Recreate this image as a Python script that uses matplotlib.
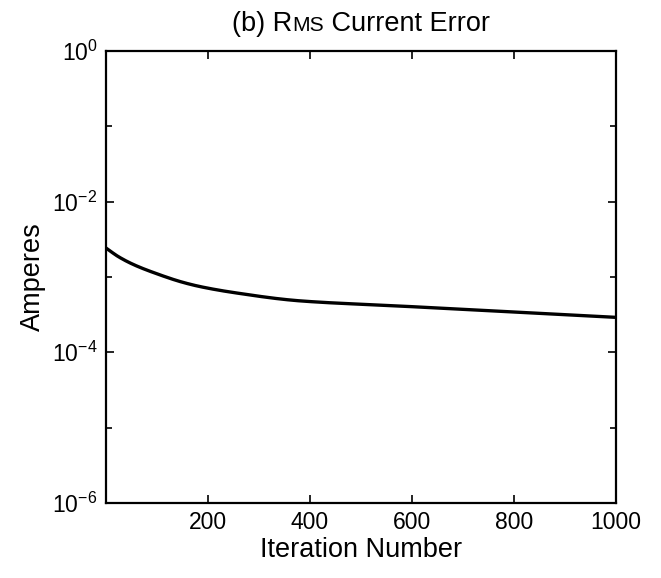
import numpy as np
import matplotlib
matplotlib.use("Agg")
import matplotlib.pyplot as plt
from matplotlib.ticker import FixedLocator, NullFormatter
from matplotlib.offsetbox import TextArea, HPacker, AnnotationBbox

plt.rcParams['font.family'] = ['Liberation Sans', 'DejaVu Sans']

# values
iterations = [1, 25, 55, 100, 150, 186, 250, 381, 576, 771, 1000]
rms_error = [2.4e-3, 1.85e-3, 1.45e-3, 1.1e-3, 8.5e-4, 7.4e-4, 6.2e-4,
             4.8e-4, 4.1e-4, 3.5e-4, 2.9e-4]
x_ticks = [200, 400, 600, 800, 1000]
y_ticks = [1e-6, 1e-4, 1e-2, 1e0]


def pchip(x, y, xs):
    # monotone cubic through the read points so the line has no kinks
    x = np.asarray(x, float)
    y = np.asarray(y, float)
    h = np.diff(x)
    d = np.diff(y) / h
    m = np.zeros_like(y)
    for k in range(1, len(x) - 1):
        if d[k - 1] * d[k] > 0:
            w1 = 2 * h[k] + h[k - 1]
            w2 = h[k] + 2 * h[k - 1]
            m[k] = (w1 + w2) / (w1 / d[k - 1] + w2 / d[k])
    m[0] = d[0]
    m[-1] = d[-1]
    idx = np.clip(np.searchsorted(x, xs) - 1, 0, len(x) - 2)
    t = (xs - x[idx]) / h[idx]
    h00 = 2 * t**3 - 3 * t**2 + 1
    h10 = t**3 - 2 * t**2 + t
    h01 = -2 * t**3 + 3 * t**2
    h11 = t**3 - t**2
    return (h00 * y[idx] + h10 * h[idx] * m[idx]
            + h01 * y[idx + 1] + h11 * h[idx] * m[idx + 1])


xs = np.linspace(1, 1000, 1000)
ys = 10 ** pchip(iterations, np.log10(rms_error), xs)

fig = plt.figure(figsize=(6.61, 5.78), dpi=100)
ax = fig.add_axes([0.160, 0.130, 0.772, 0.782])
ax.plot(xs, ys, color='black', linewidth=2.4)

ax.set_yscale('log')
ax.set_xlim(0, 1000)
ax.set_ylim(1e-6, 1e0)
ax.xaxis.set_major_locator(FixedLocator(x_ticks))
ax.yaxis.set_major_locator(FixedLocator(y_ticks))
ax.yaxis.set_minor_locator(FixedLocator([1e-5, 1e-3, 1e-1]))
ax.yaxis.set_minor_formatter(NullFormatter())
ax.tick_params(which='both', direction='in', top=True, right=True,
               labelsize=16.5, width=1.2, pad=6)
ax.tick_params(which='major', length=6)
ax.tick_params(which='minor', length=4)
for s in ax.spines.values():
    s.set_linewidth(1.6)

ax.set_xlabel('Iteration Number', fontsize=19.5, labelpad=2)
ax.set_ylabel('Amperes', fontsize=19.5, labelpad=4)

# title with small-caps "MS" as in the original
fs = 19.5
parts = [TextArea('(b) R', textprops=dict(fontsize=fs)),
         TextArea('MS', textprops=dict(fontsize=fs * 0.78)),
         TextArea(' Current Error', textprops=dict(fontsize=fs))]
title = HPacker(children=parts, align='baseline', pad=0, sep=0)
ab = AnnotationBbox(title, (0.5, 1.0), xycoords='axes fraction',
                    xybox=(0, 10), boxcoords='offset points',
                    box_alignment=(0.5, 0.0), frameon=False)
ax.add_artist(ab)

fig.savefig('out.png', dpi=100)
